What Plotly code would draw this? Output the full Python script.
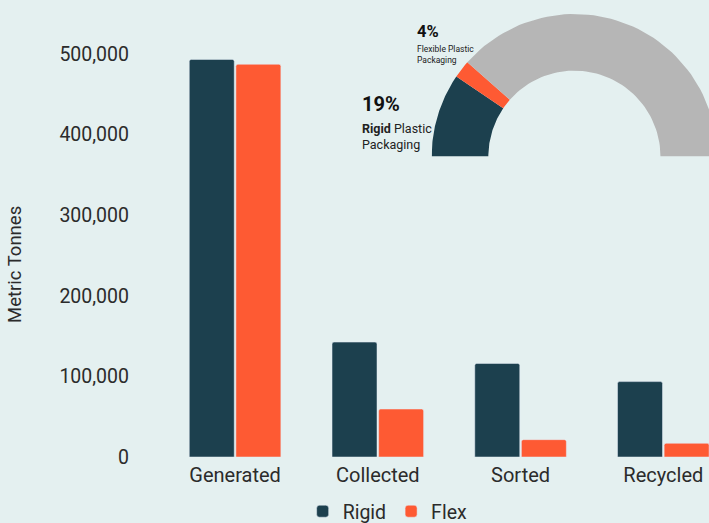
import numpy as np
import plotly.graph_objects as go

# bar data (metric tonnes)
stages = ["Generated", "Collected", "Sorted", "Recycled"]
rigid = [493000, 142500, 116000, 93500]
flex = [487000, 59500, 21500, 17000]

# share of plastic packaging, half-donut
share_labels = ["Rigid", "Flex", "Other"]
share_values = [19, 4, 77]

DARK = "#1c404e"
ORANGE = "#fe5a33"
GREY = "#b6b6b6"
BG = "#e4f0f0"
TEXT = "#2b2b2b"
FONT = "Roboto"

fig = go.Figure()
fig.add_trace(go.Bar(name="Rigid", x=stages, y=rigid, marker_color=DARK))
fig.add_trace(go.Bar(name="Flex", x=stages, y=flex, marker_color=ORANGE))

# half donut drawn as filled polygons on an overlay axis pair
r_in, r_out = 0.603, 1.0
seg_colors = [DARK, ORANGE, GREY]
cum = 0
for lab, val, col in zip(share_labels, share_values, seg_colors):
    a0 = np.pi - np.pi * cum / 100
    cum += val
    a1 = np.pi - np.pi * cum / 100
    t = np.linspace(a0, a1, 60)
    xs = np.concatenate([r_out * np.cos(t), r_in * np.cos(t[::-1])])
    ys = np.concatenate([r_out * np.sin(t), r_in * np.sin(t[::-1])])
    fig.add_trace(go.Scatter(
        x=np.append(xs, xs[0]), y=np.append(ys, ys[0]),
        xaxis="x2", yaxis="y2", mode="lines", fill="toself",
        fillcolor=col, line=dict(width=0, color=col),
        hoverinfo="skip", showlegend=False, name=lab,
    ))

fig.update_layout(
    width=709, height=523,
    paper_bgcolor=BG, plot_bgcolor=BG,
    margin=dict(l=130, r=0, t=10, b=66, autoexpand=False),
    font=dict(family=FONT, color=TEXT, size=19),
    barmode="group", bargap=0.347, bargroupgap=0.035,
    barcornerradius=2,
    xaxis=dict(range=[-0.736, 3.32], showgrid=False, zeroline=False,
               showline=False, tickfont=dict(size=20), ticklabelstandoff=4,
               automargin=False),
    yaxis=dict(range=[0, 554300], dtick=100000, tickformat=",",
               showgrid=False, zeroline=False, showline=False,
               tickfont=dict(size=19.5), automargin=False),
    xaxis2=dict(domain=[0.521, 1], range=[-1, 0.943], visible=False,
                anchor="y2"),
    yaxis2=dict(domain=[0.672, 0.991], range=[0, 1], visible=False,
                anchor="x2"),
    legend=dict(orientation="h", x=0.445, xanchor="center", y=-0.122,
                yanchor="middle", font=dict(size=19.5), itemwidth=30,
                bgcolor="rgba(0,0,0,0)"),
    showlegend=True,
)

fig.add_annotation(text="Metric Tonnes", textangle=-90, xref="paper", yref="paper",
                   x=(15 - 130) / 579, y=(457 - 265) / 447, xanchor="center",
                   yanchor="middle", showarrow=False, font=dict(size=18.5))

# donut labels
fig.add_annotation(text="<b>4%</b>", xref="paper", yref="paper", x=(415 - 130) / 579,
                   y=(457 - 32) / 447, xanchor="left", yanchor="middle",
                   showarrow=False, font=dict(size=16.5, color="#111"))
fig.add_annotation(text="Flexible Plastic<br>Packaging", xref="paper", yref="paper",
                   x=(415 - 130) / 579, y=(457 - 55) / 447, xanchor="left",
                   yanchor="middle", align="left", showarrow=False,
                   font=dict(size=8.5, color="#222"))
fig.add_annotation(text="<b>19%</b>", xref="paper", yref="paper", x=(360 - 130) / 579,
                   y=(457 - 104) / 447, xanchor="left", yanchor="middle",
                   showarrow=False, font=dict(size=20, color="#111"))
fig.add_annotation(text="<b>Rigid</b> Plastic<br>Packaging", xref="paper", yref="paper",
                   x=(360 - 130) / 579, y=(457 - 136) / 447, xanchor="left",
                   yanchor="middle", align="left", showarrow=False,
                   font=dict(size=12.5, color="#222"))

fig.write_html("out.html", config={"displayModeBar": False},
               post_script="document.body.style.margin='0';")
